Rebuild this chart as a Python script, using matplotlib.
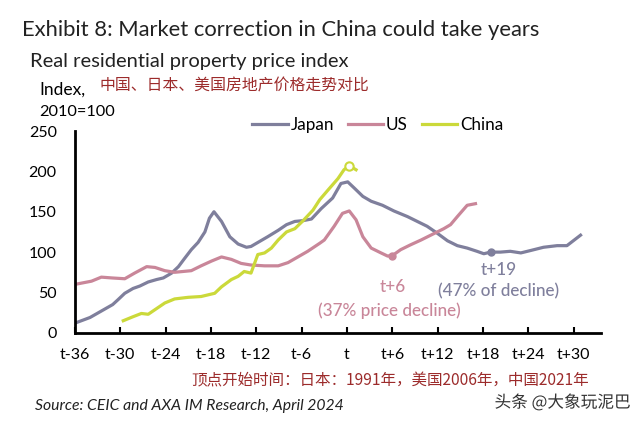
import numpy as np
import matplotlib
matplotlib.use("Agg")
import matplotlib.pyplot as plt
import matplotlib.patheffects as pe

plt.rcParams['font.family'] = ['Lato', 'Noto Sans CJK SC', 'DejaVu Sans']

# years relative to the peak (t), index 2010=100
japan_t = [-36, -34, -32.5, -31, -30.3, -29.4, -28.3, -27.4, -26.3, -25.2, -24.3, -23.2, -22.3, -21.5,
           -20.6, -19.7, -18.8, -18.2, -17.6, -16.6, -15.5, -14.4, -13.3, -12.7, -11.6, -10.5, -9.1, -8,
           -6.9, -5.8, -4.7, -3.4, -1.9, -0.8, 0.1, 1, 2.1, 3.2, 4.7, 6.2, 8, 9.3, 10.6, 12, 13.3, 14.6,
           15.9, 17.2, 18.1, 19, 20.3, 21.6, 23, 24.3, 26, 27.8, 29.1, 30.9]
japan_v = [12, 19, 27, 35, 41, 49, 55, 58, 63, 66, 68, 74, 82, 92,
           103, 112, 125, 142, 150, 138, 119, 110, 106, 107, 113, 119, 127, 134,
           138, 139, 141, 154, 167, 185, 187, 179, 169, 163, 158, 151, 144, 138, 132, 123, 114, 108,
           105, 101, 98, 100, 100, 101, 99, 102, 106, 108, 108, 121]

us_t = [-36, -33.8, -32.5, -31.1, -29.4, -28.1, -26.5, -25.4, -24.1, -22.8, -21.7, -20.6, -19.3, -17.9,
        -16.6, -15.3, -14, -12.7, -10.9, -9.1, -7.8, -6.5, -5.2, -3.6, -3, -1.7, -0.6, 0.3, 1.2, 2.1,
        3.2, 4.5, 5.4, 6.2, 7.1, 8.4, 9.8, 11.3, 12.8, 13.7, 14.6, 15.9, 17]
us_v = [60, 64, 69, 68, 67, 74, 82, 81, 77, 75, 76, 77, 83, 89,
        94, 91, 86, 84, 83, 83, 87, 94, 101, 111, 115, 132, 148, 151, 140, 119,
        105, 99, 95, 97, 103, 109, 115, 122, 129, 134, 144, 158, 160]

china_t = [-29.6, -28.3, -27.2, -26.3, -25.2, -24.1, -22.8, -21, -19.3, -17.5, -16.6, -15.3, -14.4,
           -13.6, -12.7, -11.8, -10.9, -10, -9.1, -8, -6.9, -5.8, -4.5, -3.6, -2.5, -1.2, -0.4, 0.3, 1.2]
china_v = [15, 20, 24, 23, 30, 37, 42, 44, 45, 49, 57, 66, 70,
           76, 74, 97, 99, 105, 115, 125, 129, 139, 152, 165, 177, 191, 202, 207, 202]

# highlighted points
china_peak = (0.2, 207)
us_trough = (6, 95)
japan_trough = (19, 100)

xticks = [-36, -30, -24, -18, -12, -6, 0, 6, 12, 18, 24, 30]
xlabels = ['t-36', 't-30', 't-24', 't-18', 't-12', 't-6', 't', 't+6', 't+12', 't+18', 't+24', 't+30']

c_japan = '#7f7f9c'
c_us = '#c98699'
c_china = '#cbd93a'
c_red = '#9c2b2b'

fig = plt.figure(figsize=(6.4, 4.24), dpi=100)
ax = fig.add_axes([0.117, 0.215, 0.822, 0.476])

ax.plot(japan_t, japan_v, color=c_japan, lw=2.3, label='Japan')
ax.plot(us_t, us_v, color=c_us, lw=2.3, label='US')
ax.plot(china_t, china_v, color=c_china, lw=2.3, label='China')

ax.plot(*china_peak, 'o', ms=6, mfc='white', mec=c_china, mew=1.5)
ax.plot(*us_trough, 'o', ms=5, color=c_us)
ax.plot(*japan_trough, 'o', ms=5, color=c_japan)

ax.set_xlim(-36, 33.6)
ax.set_ylim(0, 250)
ax.set_xticks(xticks)
ax.set_xticklabels(xlabels, fontsize=11.5)
ax.set_yticks(np.arange(0, 251, 50))
ax.tick_params(axis='y', labelsize=11.5, length=0, pad=13)
ax.tick_params(axis='x', direction='in', length=4, width=1.5, pad=11)
for s in ['top', 'right']:
    ax.spines[s].set_visible(False)
for s in ['left', 'bottom']:
    ax.spines[s].set_linewidth(2)

ax.text(6.1, 57, 't+6', color=c_us, fontsize=12.3, ha='center', va='center', fontweight='medium')
ax.text(5.6, 27, '(37% price decline)', color=c_us, fontsize=12.3, ha='center', va='center',
        fontweight='medium')
ax.text(20.1, 78, 't+19', color=c_japan, fontsize=12.3, ha='center', va='center', fontweight='medium')
ax.text(20.1, 51, '(47% of decline)', color=c_japan, fontsize=12.3, ha='center', va='center',
        fontweight='medium')

fig.legend(loc='center', bbox_to_anchor=(0.59, 0.705), ncol=3, frameon=False, fontsize=12.3,
           handlelength=2.1, handletextpad=0.15, columnspacing=0.8)

fig.text(0.034, 0.929, 'Exhibit 8: Market correction in China could take years', fontsize=15.8,
         color='#222222', va='center')
fig.text(0.047, 0.854, 'Real residential property price index', fontsize=14.5, color='#222222',
         va='center')
fig.text(0.062, 0.788, 'Index,', fontsize=12.5, va='center')
fig.text(0.062, 0.736, '2010=100', fontsize=11.8, va='center')
fig.text(0.156, 0.797, '中国、日本、美国房地产价格走势对比', fontsize=11.4, color=c_red, va='center',
         family=['Noto Sans CJK SC'])
fig.text(0.61, 0.101, '顶点开始时间：日本：1991年，美国2006年，中国2021年', fontsize=11.2, color=c_red,
         ha='center', va='center', family=['Noto Sans CJK SC'])
fig.text(0.055, 0.042, 'Source: CEIC and AXA IM Research, April 2024', fontsize=11.3, style='italic',
         color='#222222', va='center')
fig.text(0.985, 0.05, '头条 @大象玩泥巴', fontsize=12, color='#333333', ha='right', va='center',
         family=['Noto Sans CJK SC', 'DejaVu Sans'],
         path_effects=[pe.withStroke(linewidth=2, foreground='white')])

fig.savefig('out.png', dpi=100)
